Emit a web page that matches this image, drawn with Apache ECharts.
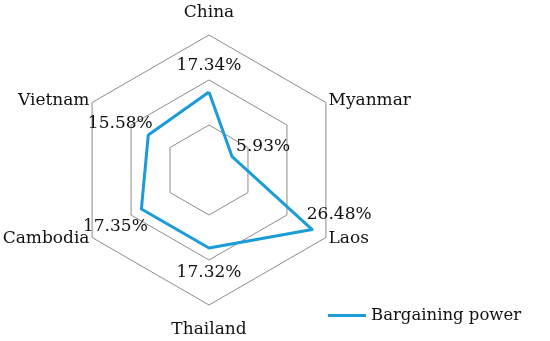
<!DOCTYPE html>
<html>
<head>
<meta charset="utf-8">
<script src="https://cdn.jsdelivr.net/npm/echarts@6/dist/echarts.min.js"></script>
<style>
    html, body { margin: 0; background: #fff; }
    #main { width: 550px; height: 341px; }
</style>
</head>
<body>
<div id="main"></div>
<script>
// radar goes counter-clockwise from the top
var countries = ['China', 'Vietnam', 'Cambodia', 'Thailand', 'Laos', 'Myanmar'];
var bargainingPower = [17.34, 15.58, 17.35, 17.32, 26.48, 5.93];
var axisMax = 30;
var ringCount = 3;

(function () {
    var font = 'DejaVu Serif';
    var blue = '#1b9bd7';
    var myChart = echarts.init(document.getElementById('main'));

    // where each value label sits relative to its point
    var nudges = [[0, -26], [-28, -11], [-26, 18], [0, 25], [27, -15], [31, -10]];

    var series = [{
        name: 'Bargaining power',
        type: 'radar',
        symbol: 'none',
        lineStyle: {color: blue, width: 3},
        itemStyle: {color: blue},
        z: 3,
        data: [{value: bargainingPower, name: 'Bargaining power'}]
    }];

    nudges.forEach(function (off, i) {
        series.push({
            name: 'lbl' + i,
            type: 'radar',
            symbol: 'circle',
            symbolSize: 1,
            silent: true,
            lineStyle: {opacity: 0},
            itemStyle: {color: 'rgba(0,0,0,0)'},
            label: {
                show: true,
                position: 'inside',
                offset: off,
                color: '#111',
                fontFamily: font,
                fontSize: 17,
                formatter: function (p) {
                    if (p.dimensionIndex !== i) return '';
                    var v = Array.isArray(p.value) ? p.value[i] : p.value;
                    return Number(v).toFixed(2) + '%';
                }
            },
            data: [{value: bargainingPower, name: 'lbl' + i}]
        });
    });

    var option = {
        animation: false,
        legend: {
            data: ['Bargaining power'],
            left: 323,
            top: 302,
            icon: 'rect',
            itemWidth: 38,
            itemHeight: 3,
            textStyle: {color: '#111', fontFamily: font, fontSize: 16.5}
        },
        radar: {
            center: [209, 170],
            radius: 135,
            startAngle: 90,
            splitNumber: ringCount,
            shape: 'polygon',
            nameGap: 3,
            axisName: {
                color: '#111',
                fontFamily: font,
                fontSize: 17,
                padding: [13, 0, 11, 0]
            },
            axisLine: {show: false},
            axisTick: {show: false},
            axisLabel: {show: false},
            splitArea: {show: false},
            splitLine: {lineStyle: {color: '#8c8c8c', width: 1}},
            indicator: countries.map(function (c) {
                return {name: c, min: 0, max: axisMax};
            })
        },
        series: series
    };

    myChart.setOption(option);
})();
</script>
</body>
</html>
